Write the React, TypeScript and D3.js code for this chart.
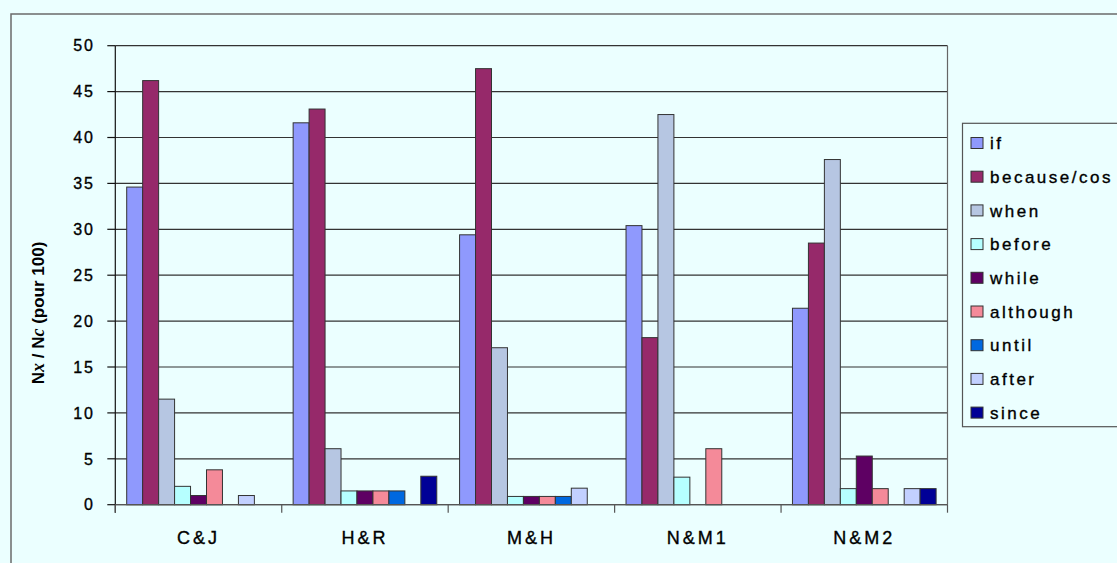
import { useMemo } from "react";
import * as d3 from "d3";

// Données (pour 100)
const categories = ["C&J", "H&R", "M&H", "N&M1", "N&M2"];
const seriesNames = ["if", "because/cos", "when", "before", "while", "although", "until", "after", "since"];
const ifValues = [34.6, 41.6, 29.4, 30.4, 21.4];
const becauseValues = [46.2, 43.1, 47.5, 18.2, 28.5];
const whenValues = [11.5, 6.1, 17.1, 42.5, 37.6];
const beforeValues = [2.0, 1.5, 0.9, 3.0, 1.75];
const whileValues = [1.0, 1.5, 0.9, 0, 5.3];
const althoughValues = [3.8, 1.5, 0.9, 6.1, 1.75];
const untilValues = [0, 1.5, 0.9, 0, 0];
const afterValues = [1.0, 0, 1.8, 0, 1.75];
const sinceValues = [0, 3.1, 0, 0, 1.75];
const yTicks = [0, 5, 10, 15, 20, 25, 30, 35, 40, 45, 50];

const seriesValues = [
  ifValues,
  becauseValues,
  whenValues,
  beforeValues,
  whileValues,
  althoughValues,
  untilValues,
  afterValues,
  sinceValues,
];

const colors = ["#8f99fd", "#96296a", "#b6c6e2", "#b6ffff", "#5e0063", "#f48a99", "#0068e0", "#c2d0ff", "#000096"];

const BG = "#ebffff";
const FONT = "'Liberation Sans', Arial, sans-serif";

export default function App() {
  const width = 1117;
  const height = 563;
  const plot = { left: 115.3, right: 947.5, top: 45.7, bottom: 504.7 };

  const { x0, x1, y } = useMemo(() => {
    const x0 = d3.scaleBand<string>().domain(categories).range([plot.left, plot.right]).padding(0);
    const gap = 11.4;
    const x1 = d3
      .scaleBand<string>()
      .domain(seriesNames)
      .range([gap, x0.bandwidth() - gap])
      .padding(0);
    const y = d3.scaleLinear().domain([0, 50]).range([plot.bottom, plot.top]);
    return { x0, x1, y };
  }, []);

  const boundaries = [...categories.map((c) => x0(c) || 0), plot.right];

  // léger contour pour épaissir le texte comme le rendu d'origine
  const ink = { fill: "#000", stroke: "#000", strokeWidth: 0.35 };

  return (
    <svg
      width={width}
      height={height}
      style={{ position: "absolute", left: 0, top: 0, background: BG }}
      fontFamily={FONT}
    >
      <rect x={0} y={0} width={width} height={height} fill={BG} />
      {/* cadre extérieur */}
      <rect x={11} y={14} width={width + 20} height={height + 20} fill="none" stroke="#6b6b6b" strokeWidth={1.5} />

      {/* grille */}
      {yTicks.map((t) => (
        <line
          key={t}
          x1={plot.left}
          x2={plot.right}
          y1={y(t)}
          y2={y(t)}
          stroke={t === 0 ? "#555" : "#333"}
          strokeWidth={1.2}
        />
      ))}
      <line x1={plot.right} x2={plot.right} y1={plot.top} y2={plot.bottom} stroke="#666" strokeWidth={1.2} />

      {/* barres */}
      {categories.map((c, ci) => (
        <g key={c} transform={`translate(${x0(c)},0)`}>
          {seriesNames.map((s, si) => {
            const v = seriesValues[si][ci];
            if (!v) return null;
            return (
              <rect
                key={s}
                x={x1(s)}
                y={y(v)}
                width={x1.bandwidth()}
                height={y(0) - y(v)}
                fill={colors[si]}
                stroke="#333"
                strokeWidth={1}
              />
            );
          })}
        </g>
      ))}

      {/* axe Y */}
      <line x1={plot.left} x2={plot.left} y1={plot.top} y2={plot.bottom + 8} stroke="#111" strokeWidth={1.2} />
      {yTicks.map((t) => (
        <g key={t}>
          <line x1={plot.left - 8} x2={plot.left} y1={y(t)} y2={y(t)} stroke="#111" strokeWidth={1.2} />
          <text x={95} y={y(t)} dy="0.36em" textAnchor="end" fontSize={16} letterSpacing={2} {...ink}>
            {t}
          </text>
        </g>
      ))}

      {/* axe X */}
      <line x1={plot.left} x2={plot.right} y1={plot.bottom} y2={plot.bottom} stroke="#555" strokeWidth={1.2} />
      {boundaries.map((b, i) => (
        <line key={i} x1={b} x2={b} y1={plot.bottom} y2={plot.bottom + 8} stroke="#555" strokeWidth={1.2} />
      ))}
      {categories.map((c) => (
        <text
          key={c}
          x={(x0(c) || 0) + x0.bandwidth() / 2}
          y={544}
          textAnchor="middle"
          fontSize={18}
          letterSpacing={3}
          {...ink}
        >
          {c}
        </text>
      ))}

      {/* titre Y */}
      <text transform="translate(44,313) rotate(-90)" textAnchor="middle" fontSize={17} fontWeight="bold" fill="#000">
        <tspan>N</tspan>
        <tspan fontStyle="italic" fontFamily="'Liberation Serif', serif" fontSize={18}>x</tspan>
        <tspan> / N</tspan>
        <tspan fontStyle="italic" fontFamily="'Liberation Serif', serif" fontSize={18}>c</tspan>
        <tspan> (pour 100)</tspan>
      </text>

      {/* légende */}
      <rect x={962.5} y={123.3} width={200} height={303.4} fill={BG} stroke="#555" strokeWidth={1.2} />
      {seriesNames.map((s, i) => {
        const cy = 143 + i * 33.7;
        return (
          <g key={s}>
            <rect x={971} y={cy - 5.5} width={12} height={11} fill={colors[i]} stroke="#333" strokeWidth={1} />
            <text x={990} y={cy} dy="0.36em" fontSize={17} letterSpacing={2.5} {...ink}>
              {s}
            </text>
          </g>
        );
      })}
    </svg>
  );
}
